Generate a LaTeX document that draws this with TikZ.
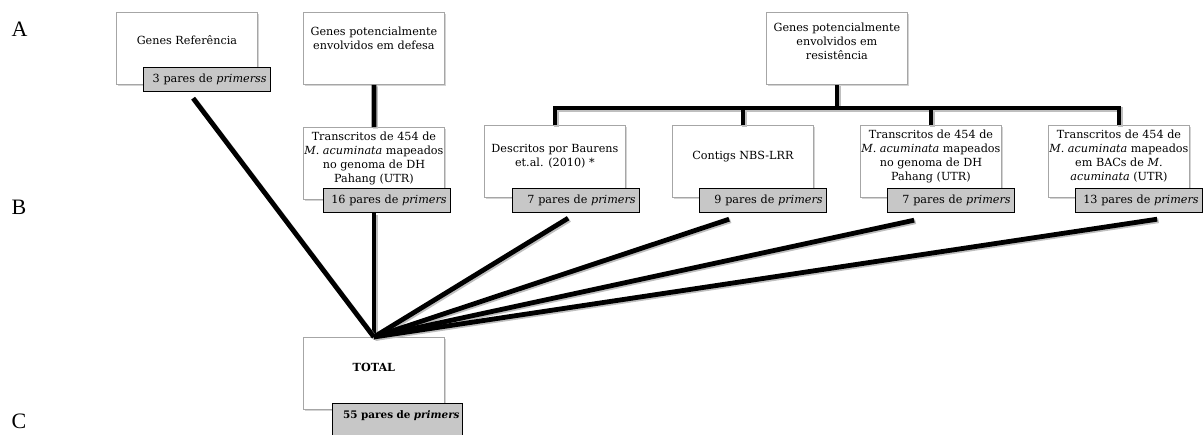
\documentclass[tikz,border=0pt]{standalone}
\usepackage{fontspec}
\setmainfont{DejaVu Serif}
\newfontfamily\letterfont{Liberation Serif}
\usetikzlibrary{shadows}
\begin{document}
\begin{tikzpicture}[x=1pt,y=-1pt,
    genbox/.style={anchor=north west,draw=black!35,fill=white,line width=0.8pt,minimum width=141pt,minimum height=72pt,align=center,inner xsep=1pt,inner ysep=2pt,text depth=12pt,font=\fontsize{11.2}{14}\selectfont,drop shadow={shadow xshift=2pt,shadow yshift=-2pt,opacity=0.35}},
    pairbox/.style={anchor=north west,draw=black,fill=black!22,line width=1.2pt,minimum height=24pt,text width=119pt,align=right,inner xsep=4pt,font=\fontsize{11.2}{14}\selectfont},
    link/.style={line width=4.8pt,preaction={draw=black!25,line width=4.8pt,transform canvas={xshift=1.5pt,yshift=-1.5pt}}},
    rowlabel/.style={font=\letterfont\fontsize{22}{24}\selectfont}]
  \useasboundingbox (0,0) rectangle (1204,434);

  \node[rowlabel] (la) at (19.5,29) {A};
  \node[rowlabel] (lb) at (19,207) {B};
  \node[rowlabel] (lc) at (19,421.5) {C};

  \node[genbox,text depth=16pt] (ref) at (116,12) {Genes Referência};
  \node[genbox,text depth=20pt] (defesa) at (303,12) {Genes potencialmente\\envolvidos em defesa};
  \node[genbox,text depth=14pt] (resist) at (766,12) {Genes potencialmente\\envolvidos em\\resistência};
  \node[genbox] (transdef) at (303,127) {Transcritos de 454 de\\\textit{M. acuminata} mapeados\\no genoma de DH\\Pahang (UTR)};
  \node[genbox] (baurens) at (484,125) {Descritos por Baurens\\et.al. (2010) *};
  \node[genbox] (contigs) at (672,125) {Contigs NBS-LRR};
  \node[genbox] (transdh) at (860,125) {Transcritos de 454 de\\\textit{M. acuminata} mapeados\\no genoma de DH\\Pahang (UTR)};
  \node[genbox] (transbac) at (1048,125) {Transcritos de 454 de\\\textit{M. acuminata} mapeados\\em BACs de \textit{M.}\\\textit{acuminata} (UTR)};
  \node[genbox] (total) at (303,337) {\textbf{TOTAL}};

  \node[pairbox] (refp) at (143,67) {3 pares de \textit{primerss}};
  \node[pairbox] (transdefp) at (323,188) {16 pares de \textit{primers}};
  \node[pairbox] (baurensp) at (512,188) {7 pares de \textit{primers}};
  \node[pairbox] (contigsp) at (699,188) {9 pares de \textit{primers}};
  \node[pairbox] (transdhp) at (887,188) {7 pares de \textit{primers}};
  \node[pairbox] (transbacp) at (1075,188) {13 pares de \textit{primers}};
  \node[pairbox,text width=124pt,inner xsep=3pt,inner ysep=7pt,text depth=20pt,font=\fontsize{10.4}{13}\selectfont] (totalp) at (332,403) {\textbf{55 pares de \textit{primers}}};

  \coordinate (bar) at (836,108);
  \draw[link] (resist.south) -- (resist.south |- bar);
  \draw[link] (baurens.north) |- (bar) -| (transbac.north);
  \draw[link] (contigs.north) -- (contigs.north |- bar);
  \draw[link] (transdh.north) -- (transdh.north |- bar);

  \draw[link] (defesa.south) -- (transdef.north);
  \draw[link] (transdefp.south -| total.north) -- (total.north);
  \draw[link] ([shift={(-14,6)}]refp.south) -- (total.north);
  \draw[link] ([shift={(-8,5)}]baurensp.south) -- (total.north);
  \draw[link] ([shift={(-34,6)}]contigsp.south) -- (total.north);
  \draw[link] ([shift={(-37,7)}]transdhp.south) -- (total.north);
  \draw[link] ([shift={(18,6)}]transbacp.south) -- (total.north);
\end{tikzpicture}
\end{document}
